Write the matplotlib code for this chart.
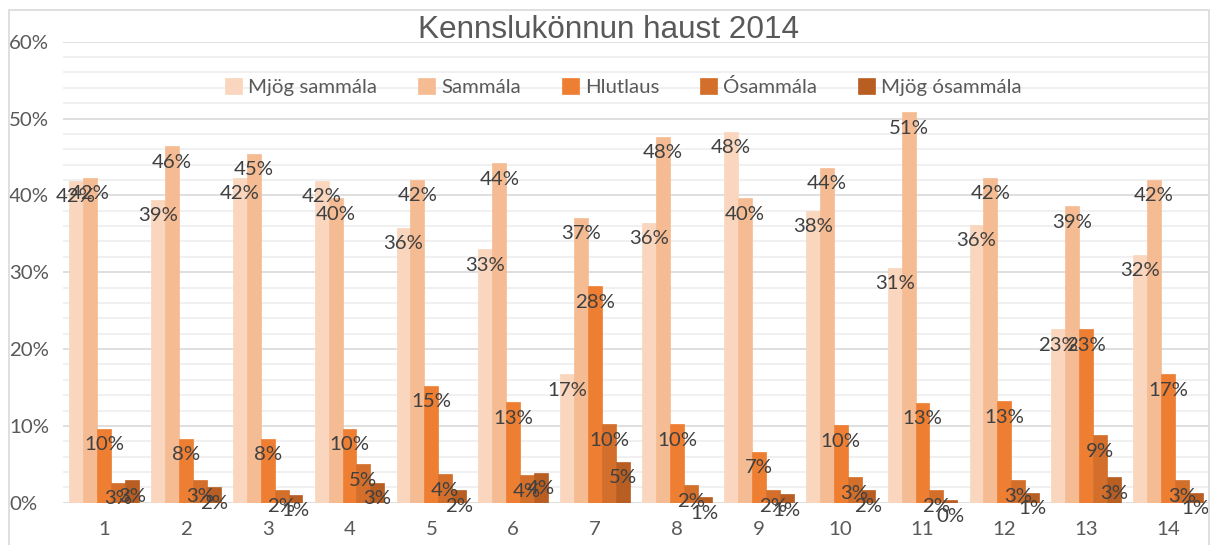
import matplotlib
matplotlib.use("Agg")
import matplotlib.pyplot as plt
import matplotlib.patches as mpatches
import numpy as np

categories = [str(i) for i in range(1, 15)]
series_names = ["Mjög sammála", "Sammála", "Hlutlaus", "Ósammála", "Mjög ósammála"]

mjog_sammala = [41.9, 39.4, 42.3, 41.9, 35.8, 33.0, 16.7, 36.4, 48.3, 38.0, 30.6, 36.2, 22.6, 32.3]
sammala = [42.3, 46.4, 45.4, 39.6, 42.0, 44.2, 37.1, 47.6, 39.6, 43.6, 50.8, 42.3, 38.6, 42.0]
hlutlaus = [9.6, 8.3, 8.3, 9.6, 15.2, 13.1, 28.2, 10.2, 6.6, 10.1, 13.0, 13.2, 22.6, 16.7]
osammala = [2.6, 2.9, 1.6, 5.0, 3.7, 3.6, 10.2, 2.3, 1.6, 3.3, 1.6, 2.9, 8.8, 2.9]
mjog_osammala = [2.9, 2.0, 1.0, 2.6, 1.6, 3.9, 5.3, 0.7, 1.1, 1.6, 0.3, 1.3, 3.3, 1.3]

colors = ["#F9D6BD", "#F5BB92", "#EE7E32", "#D36F2B", "#B85E22"]

FONT = "Lato"
FS = 14.7
TXT = "#595959"

fig = plt.figure(figsize=(12.16, 5.45), dpi=100)
ax = fig.add_axes([63 / 1216, 1 - 502.7 / 545, (1209 - 63) / 1216, (502.7 - 41.7) / 545])

# chart border
fig.patches.append(mpatches.Rectangle((9 / 1216, -0.05), 1200 / 1216, 1.05 - 10 / 545,
                                      transform=fig.transFigure, fill=False,
                                      edgecolor="#D9D9D9", lw=1.2, zorder=0))

data = [mjog_sammala, sammala, hlutlaus, osammala, mjog_osammala]
x = np.arange(1, len(categories) + 1)
w = 0.17
handles = []
for i, (vals, name, col) in enumerate(zip(data, series_names, colors)):
    vals = np.array(vals) / 100
    xs = x + (i - 2) * w
    b = ax.bar(xs, vals, width=w, color=col, label=name, zorder=2,
               edgecolor=col, linewidth=0.5)
    handles.append(b)
    for xv, v in zip(xs, vals):
        ax.annotate(f"{v:.0%}", (xv, v), xytext=(0, -11.5), textcoords="offset points",
                    ha="center", va="center", fontsize=FS, family=FONT,
                    color="#404040", zorder=5)

ax.set_xlim(0.5, 14.5)
ax.set_ylim(0, 0.6)
ax.set_yticks(np.arange(0, 0.61, 0.1))
ax.set_yticks(np.arange(0, 0.61, 0.02), minor=True)
ax.set_yticklabels([f"{int(round(t * 100))}%" for t in np.arange(0, 0.61, 0.1)],
                   family=FONT, fontsize=FS, color=TXT)
for lab in ax.get_yticklabels():
    lab.set_ha("left")
ax.tick_params(axis="y", which="both", length=0, pad=38.9)
ax.set_xticks(x)
ax.set_xticklabels(categories, family=FONT, fontsize=FS, color=TXT)
ax.tick_params(axis="x", length=0, pad=13.5)

ax.grid(axis="y", which="major", color="#D9D9D9", lw=1.2, zorder=0)
ax.grid(axis="y", which="minor", color="#EDEDED", lw=1.2, zorder=0)
ax.set_axisbelow(True)
for s in ax.spines.values():
    s.set_visible(False)

fig.text(609 / 1216, 1 - 37.5 / 545, "Kennslukönnun haust 2014", ha="center", va="baseline",
         fontsize=22.7, family="Liberation Sans", color=TXT)

leg = fig.legend(handles=handles, loc="center", bbox_to_anchor=(623.5 / 1216, 1 - 87 / 545),
                 ncol=5, frameon=False, handlelength=0.83, handleheight=0.83,
                 handletextpad=0.3, columnspacing=2.0,
                 prop={"family": FONT, "size": FS})
for t in leg.get_texts():
    t.set_color(TXT)

fig.savefig("out.png", dpi=100)
